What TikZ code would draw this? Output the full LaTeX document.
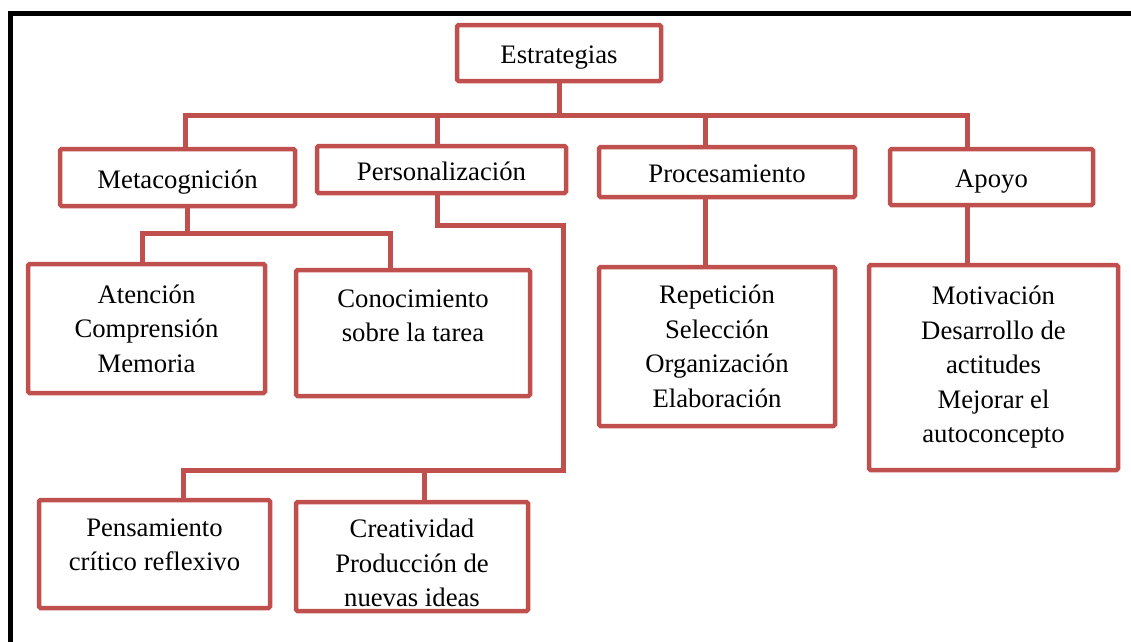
\documentclass[tikz,border=0pt]{standalone}
\usepackage{fontspec}
\setmainfont{Liberation Serif}
\usetikzlibrary{shadows}
\definecolor{boxred}{RGB}{192,80,77}

\begin{document}
\begin{tikzpicture}[x=1pt, y=-1pt,
  box/.style={draw=boxred, line width=4.5pt, fill=white, rounded corners=1.5pt,
    align=center, inner sep=0pt, font=\fontsize{26.7}{34.5}\selectfont,
    drop shadow={opacity=0.25, shadow xshift=1.5pt, shadow yshift=-1.5pt}},
  head/.style={box, text height=21pt, text depth=0pt},
  link/.style={draw=boxred, line width=5pt}]
\useasboundingbox (0,0) rectangle (1131,641);
\draw[line width=5pt] (10,650) -- (10,13) -- (1140,13);
\node[head, minimum width=204pt, minimum height=56pt](Est) at (559, 53) {Estrategias};
\node[head, minimum width=235pt, minimum height=57pt](Meta) at (177.5, 177.5) {Metacognición};
\node[head, minimum width=249pt, minimum height=47pt](Pers) at (441.5, 169.5) {Personalización};
\node[head, minimum width=256pt, minimum height=50pt](Proc) at (727, 172) {Procesamiento};
\node[head, minimum width=203pt, minimum height=56pt](Apoyo) at (991.5, 177) {Apoyo};
\node[box, minimum width=237pt, minimum height=129pt](Aten) at (146.5, 328.5) {Atención\\Comprensión\\Memoria};
\node[box, minimum width=234pt, minimum height=126pt](Conoc) at (413, 333) {Conocimiento\\sobre la tarea\\~};
\node[box, minimum width=236pt, minimum height=159pt](Repet) at (717, 346.5) {Repetición\\Selección\\Organización\\Elaboración};
\node[box, minimum width=249pt, minimum height=205pt](Motiv) at (993.5, 367.5) {Motivación\\Desarrollo de\\actitudes\\Mejorar el\\autoconcepto};
\node[box, minimum width=231pt, minimum height=108pt](Pens) at (154.5, 554) {Pensamiento\\crítico reflexivo\\[-16pt]~};
\node[box, minimum width=232pt, minimum height=109pt](Creat) at (412, 556.5) {\rule{0pt}{32pt}Creatividad\\Producción de\\nuevas ideas};
\coordinate(bus) at (0, 115);
\coordinate(mbus) at (0, 233);
\coordinate(pturn) at (563, 225);
\coordinate(pbus) at (0, 470);
\draw[link] (Est.south) -- (Est.south |- bus);
\draw[link] ([xshift=7.5pt]Meta.north) |- ([xshift=-24.5pt]Apoyo.north |- bus) -- ([xshift=-24.5pt]Apoyo.north);
\draw[link] ([xshift=-4.5pt]Pers.north) -- ([xshift=-4.5pt]Pers.north |- bus);
\draw[link] ([xshift=-22pt]Proc.north) -- ([xshift=-22pt]Proc.north |- bus);
\draw[link] ([xshift=9.5pt]Meta.south) -- ([xshift=9.5pt]Meta.south |- mbus);
\draw[link] ([xshift=-4.5pt]Aten.north) |- ([xshift=-23pt]Conoc.north |- mbus) -- ([xshift=-23pt]Conoc.north);
\draw[link] ([xshift=-4.5pt]Pers.south) |- (pturn) |- ([xshift=28.5pt]Pens.north |- pbus) -- ([xshift=28.5pt]Pens.north);
\draw[link] ([xshift=12pt]Creat.north) -- ([xshift=12pt]Creat.north |- pbus);
\draw[link] ([xshift=-22pt]Proc.south) -- ([xshift=-22pt]Proc.south |- Repet.north);
\draw[link] ([xshift=-24.5pt]Apoyo.south) -- ([xshift=-24.5pt]Apoyo.south |- Motiv.north);
\end{tikzpicture}
\end{document}
